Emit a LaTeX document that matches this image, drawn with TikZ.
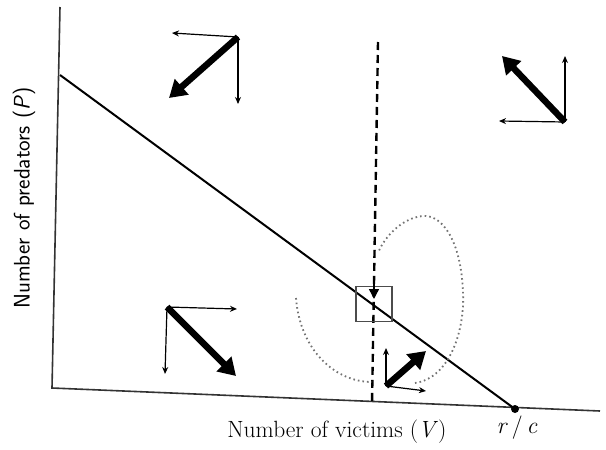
\documentclass[tikz,border=0pt]{standalone}
\usetikzlibrary{arrows.meta}
\begin{document}
\begin{tikzpicture}[x=1pt,y=-1pt,
  axis/.style={line width=1.6pt, black!80},
  iso/.style={line width=2pt},
  thin/.style={line width=1.2pt, -{Stealth[length=7pt,width=6pt]}},
  thick/.style={line width=6.5pt, -{Triangle[length=17pt,width=20pt]}},
  dotline/.style={line width=1.8pt, dash pattern=on 1.6pt off 3pt, black!55},
  lbl/.style={inner sep=0pt, font=\fontsize{23.5}{26}\selectfont}]
\useasboundingbox (0,0) rectangle (606,450);
% axes
\coordinate (ytop) at (60,7);
\coordinate (orig) at (52,388);
\coordinate (xend) at (600,411);
\draw[axis] (ytop) -- (orig) -- (xend);
% isocline
\coordinate (iso1) at (60,75);
\node[circle, fill, inner sep=0pt, minimum size=8pt] (rc) at (515,409) {};
\draw[iso] (iso1) -- (rc.center);
% dashed vertical isocline
\coordinate (d1) at (378,42);
\coordinate (d2) at (372,404);
\draw[line width=2.4pt, dash pattern=on 8pt off 5pt] (d1) -- (d2);
% equilibrium box
\node[draw=black!70, line width=1.3pt, minimum width=36pt, minimum height=35pt, inner sep=0pt] (eq) at (374,304) {};
\coordinate (da) at (374,282);
\coordinate (db) at (374,299);
\draw[line width=1.4pt, -{Triangle[length=10pt,width=10pt]}] (da) -- (db);
% dotted spiral
\coordinate (s1) at (296,298);
\coordinate (s2) at (372,382);
\draw[dotline] (s1) .. controls (300,350) and (335,382) .. (s2);
\coordinate (s3) at (415,383);
\coordinate (s4) at (463,292);
\coordinate (s5) at (425,216);
\coordinate (s6) at (378,253);
\draw[dotline] (s3) .. controls (450,378) and (465,330) .. (s4)
  .. controls (461,240) and (442,216) .. (s5)
  .. controls (405,216) and (385,235) .. (s6);
% top-left cluster
\coordinate (a0) at (238,37);
\coordinate (a1) at (172,33);
\coordinate (a2) at (238,104);
\coordinate (a3) at (169,98);
\draw[thin] (a0) -- (a1);
\draw[thin] (a0) -- (a2);
\draw[thick] (a0) -- (a3);
% top-right cluster
\coordinate (b0) at (565,122);
\coordinate (b1) at (499,121);
\coordinate (b2) at (565,56);
\coordinate (b3) at (502,56);
\draw[thin] (b0) -- (b1);
\draw[thin] (b0) -- (b2);
\draw[thick] (b0) -- (b3);
% bottom-left cluster
\coordinate (c0) at (167,307);
\coordinate (c1) at (237,309);
\coordinate (c2) at (165,374);
\coordinate (c3) at (236,376);
\draw[thin] (c0) -- (c1);
\draw[thin] (c0) -- (c2);
\draw[thick] (c0) -- (c3);
% bottom-right cluster
\coordinate (e0) at (386,386);
\coordinate (e1) at (386,348);
\coordinate (e2) at (426,391);
\coordinate (e3) at (426,351);
\draw[thin] (e0) -- (e1);
\draw[thin] (e0) -- (e2);
\draw[thick] (e0) -- (e3);
% labels
\node[lbl] (xl) at (337,432) {Number of victims (\textit{V})};
\node[lbl] (rcl) at (517,428) {\textit{r}\,/\,\textit{c}};
\node[lbl, rotate=90, font=\fontsize{22.5}{25}\selectfont\sffamily] (yl) at (24,198) {Number of predators (\textit{P})};
\end{tikzpicture}
\end{document}
